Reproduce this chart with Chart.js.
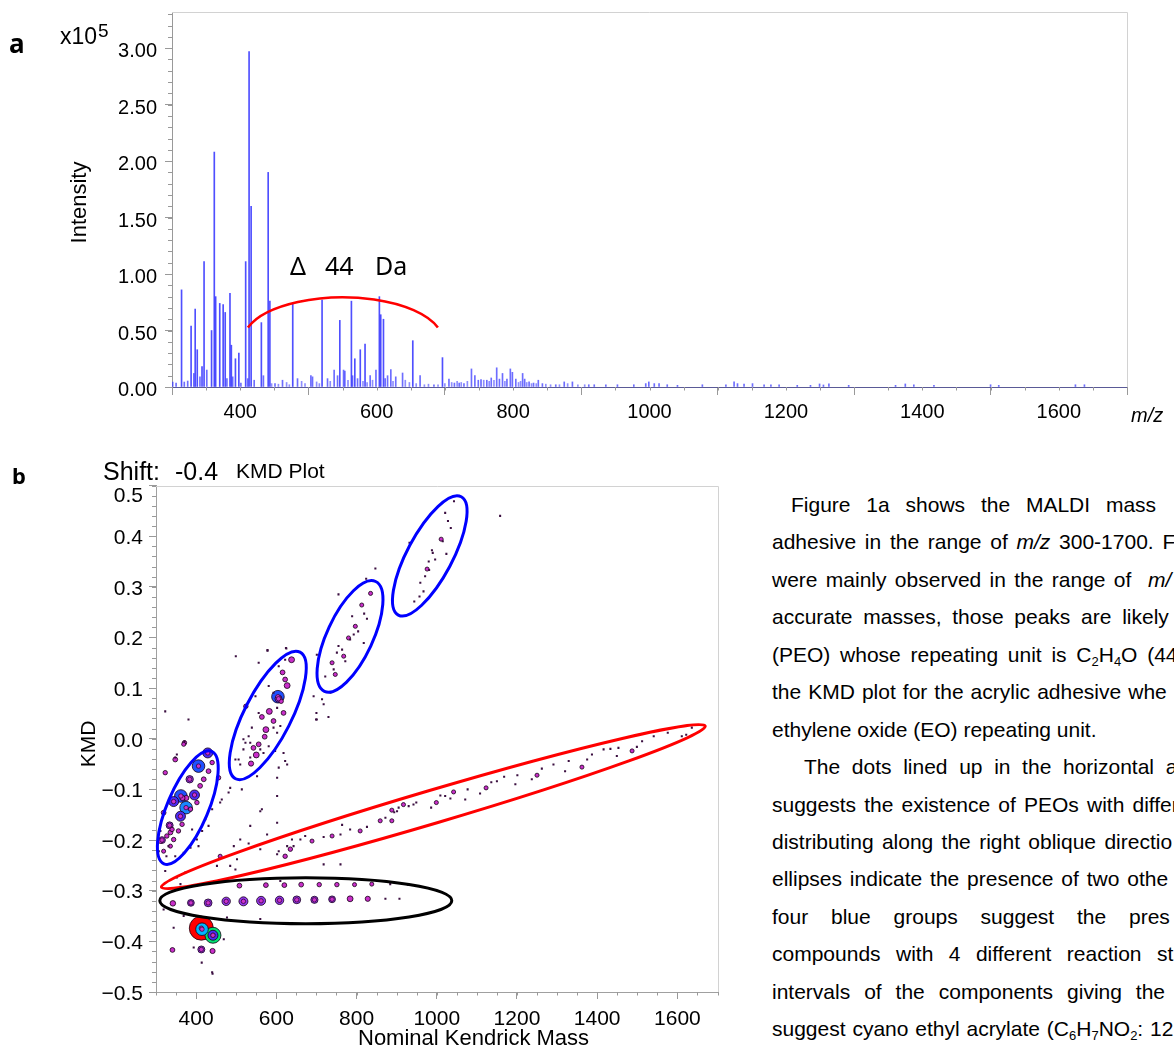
<!DOCTYPE html>
<html>
<head>
<meta charset="utf-8">
<script src="https://cdn.jsdelivr.net/npm/chart.js@4.4.1/dist/chart.umd.min.js"></script>
<style>
  body { margin: 0; width: 1174px; height: 1046px; overflow: hidden; background: #fff; position: relative;
         font-family: "Liberation Sans", Arial, sans-serif; }
  #specWrap { position: absolute; left: 0; top: 0; width: 1174px; height: 440px; }
  #kmdWrap { position: absolute; left: 0; top: 440px; width: 740px; height: 606px; }
  #text { position: absolute; left: 772px; top: 486px; font-size: 21px; line-height: 37.45px; color: #000; white-space: nowrap; }
  #text div { height: 37.45px; }
  #text sub { font-size: 13px; vertical-align: -4px; line-height: 0; }
</style>
</head>
<body>
<div id="specWrap"><canvas id="spec" width="1174" height="440"></canvas></div>
<div id="kmdWrap"><canvas id="kmd" width="740" height="606"></canvas></div>

<div id="text">
  <div style="padding-left:19px;word-spacing:10px">Figure 1a shows the MALDI mass</div>
  <div style="word-spacing:2.9px">adhesive in the range of <i>m/z</i> 300-1700. F</div>
  <div style="word-spacing:2.5px">were mainly observed in the range of &nbsp;<i>m/</i></div>
  <div style="word-spacing:4.9px">accurate masses, those peaks are likely</div>
  <div style="word-spacing:3.9px">(PEO) whose repeating unit is C<sub>2</sub>H<sub>4</sub>O (44</div>
  <div style="word-spacing:1.2px">the KMD plot for the acrylic adhesive whe</div>
  <div>ethylene oxide (EO) repeating unit.</div>
  <div style="padding-left:32px;word-spacing:5.8px">The dots lined up in the horizontal a</div>
  <div style="word-spacing:2.3px">suggests the existence of PEOs with differ</div>
  <div style="word-spacing:2.5px">distributing along the right oblique directio</div>
  <div style="word-spacing:2px">ellipses indicate the presence of two othe</div>
  <div style="word-spacing:17px">four blue groups suggest the pres</div>
  <div style="word-spacing:9.6px">compounds with 4 different reaction st</div>
  <div style="word-spacing:8.1px">intervals of the components giving the</div>
  <div style="word-spacing:1px">suggest cyano ethyl acrylate (C<sub>6</sub>H<sub>7</sub>NO<sub>2</sub>: 12</div>
</div>

<script>
// ---- (a) MALDI spectrum, intensity in x10^5 ----
const massTicks = [400, 600, 800, 1000, 1200, 1400, 1600];

const peakMz = [314, 328, 334, 337, 344, 347, 358, 362, 364, 370,
                375, 378, 385, 387, 393, 398, 408, 413, 416, 431,
                441, 443.5, 477, 520, 546, 563, 568, 576, 583, 604,
                606, 610, 653, 696.5];
const peakInt = [0.86, 0.54, 0.69, 0.33, 0.18, 1.11, 0.50, 2.08, 0.80, 0.74,
                 0.73, 0.66, 0.83, 0.37, 0.25, 0.30, 1.11, 2.97, 1.60, 0.57,
                 1.90, 0.76, 0.74, 0.77, 0.59, 0.76, 0.25, 0.33, 0.38, 0.80,
                 0.64, 0.60, 0.41, 0.26];

const noiseMz = [301, 306, 318, 323, 332, 341, 351, 380.5, 389, 401,
                 411, 420.5, 434, 451, 462, 484, 503.6, 506, 528, 537.7,
                 542.7, 551.5, 553.4, 564.7, 572, 590.5, 599, 612.5, 616, 620.8,
                 628, 638, 663.7, 684, 706, 714, 721, 728, 739, 744,
                 749, 753, 761.5, 768, 776, 780, 784.5, 791, 796, 799,
                 804, 814, 817, 823.5, 830, 837, 843, 862.6, 875, 887,
                 911, 919, 936, 953, 977, 994.5, 999, 1007, 1014, 1026,
                 1041, 1077.5, 1112, 1124, 1129, 1138.6, 1151, 1168, 1178, 1190,
                 1216.6, 1236, 1249.3, 1255, 1263, 1292, 1360.7, 1375, 1387.5, 1417,
                 1500, 1512, 1624.4, 1637.6];
const noiseInt = [0.044, 0.035, 0.044, 0.053, 0.12, 0.09, 0.15, 0.074, 0.09, 0.035,
                  0.074, 0.06, 0.10, 0.03, 0.06, 0.074, 0.10, 0.09, 0.074, 0.15,
                  0.10, 0.15, 0.14, 0.10, 0.074, 0.10, 0.15, 0.074, 0.10, 0.154,
                  0.09, 0.124, 0.10, 0.02, 0.07, 0.035, 0.035, 0.03, 0.16, 0.10,
                  0.06, 0.065, 0.06, 0.08, 0.17, 0.07, 0.12, 0.07, 0.16, 0.13,
                  0.07, 0.12, 0.07, 0.045, 0.035, 0.06, 0.03, 0.02, 0.045, 0.045,
                  0.02, 0.02, 0.02, 0.02, 0.02, 0.03, 0.045, 0.03, 0.03, 0.02,
                  0.015, 0.02, 0.02, 0.045, 0.03, 0.025, 0.03, 0.02, 0.02, 0.02,
                  0.015, 0.015, 0.027, 0.018, 0.027, 0.015, 0.015, 0.027, 0.02, 0.015,
                  0.02, 0.015, 0.02, 0.02];

const baselineMz = [446, 456, 468, 472, 490, 495, 512, 516, 532, 558,
                    580, 586, 594, 624, 642, 648, 658, 670, 676, 690,
                    700, 710, 718, 724, 733, 757, 765, 772, 788, 808,
                    811, 820, 827, 834, 848, 855, 868, 880, 895, 905];
const baselineInt = [0.03, 0.025, 0.04, 0.02, 0.05, 0.03, 0.045, 0.03, 0.05, 0.06,
                     0.05, 0.04, 0.06, 0.05, 0.06, 0.04, 0.03, 0.02, 0.025, 0.02,
                     0.03, 0.04, 0.05, 0.04, 0.05, 0.06, 0.05, 0.06, 0.05, 0.04,
                     0.05, 0.04, 0.03, 0.03, 0.025, 0.02, 0.02, 0.03, 0.02, 0.02];

// ---- (b) KMD plot: [nominal Kendrick mass, KMD, relative intensity %] ----
const blueGroup1 = [
  [429, -0.028, 45], [406, -0.054, 60], [384, -0.080, 13], [362, -0.113, 65], [396, -0.111, 50],
  [344, -0.124, 45], [375, -0.136, 75], [361, -0.153, 42], [334, -0.171, 11], [315, -0.200, 10],
  [375.5, -0.117, 6], [366, -0.117, 6], [419, -0.080, 5], [431, -0.064, 5], [348, -0.041, 5],
  [371, -0.008, 4], [323, -0.067, 4], [319, -0.146, 5], [336, -0.185, 5], [327, -0.192, 4],
  [311, -0.202, 5], [356, -0.182, 4], [365, -0.169, 4], [386, -0.139, 4], [402, -0.126, 4],
  [410, -0.093, 5], [440, -0.047, 4], [456, -0.077, 4], [340, -0.179, 4], [344, -0.199, 4],
  [336, -0.212, 3], [319, -0.222, 3]
];
const blueGroup2 = [
  [604, 0.083, 62], [605.5, 0.079, 11],
  [638, 0.156, 8], [627, 0.105, 8], [582.5, 0.054, 8], [574, 0.018, 8], [550, -0.032, 8],
  [537, -0.049, 6], [571, 0.004, 5], [615.6, 0.131, 5], [622, 0.117, 5], [618, 0.051, 5],
  [593, 0.035, 5], [564, 0.043, 5], [556, -0.011, 5], [543, -0.018, 5], [524, 0.064, 4],
  [612, 0.074, 4],
  [556, 0.150, 2], [578, 0.174, 2], [499, 0.163, 2], [625, 0.178, 2], [602, 0.061, 2],
  [593, 0.022, 2], [602, 0.012, 2], [610, 0.025, 2], [539, 0.022, 2], [531, 0.005, 2],
  [523, -0.008, 2], [518, -0.021, 2], [568, -0.028, 2], [581, -0.015, 2], [597, -0.024, 2],
  [618, -0.028, 2], [627, -0.051, 2], [506, -0.041, 2], [556, 0.051, 2], [548, 0.084, 2],
  [581, 0.104, 2], [593, 0.091, 2], [606, 0.143, 2], [622, 0.156, 2]
];
const blueGroup3 = [
  [835, 0.287, 3], [813, 0.264, 3], [819, 0.247, 2], [826, 0.237, 2], [789, 0.242, 2],
  [797, 0.222, 3], [804, 0.212, 2], [780, 0.199, 3], [784, 0.196, 2], [764, 0.176, 2],
  [768, 0.163, 3], [772, 0.153, 2], [739, 0.150, 3], [743, 0.137, 2], [747, 0.127, 3],
  [722, 0.123, 2], [818, 0.189, 2], [793, 0.206, 2], [755, 0.183, 2], [751, 0.170, 2],
  [847, 0.336, 2], [824, 0.316, 2], [755, 0.285, 2], [701, 0.166, 2], [693, 0.084, 2],
  [714, 0.078, 2], [699, 0.038, 2], [730, 0.043, 2], [735, 0.091, 2]
];
const blueGroup4 = [
  [1043, 0.469, 2], [1021, 0.446, 2], [1028, 0.430, 2], [1035, 0.416, 2], [1011, 0.394, 3],
  [1015, 0.390, 2], [988, 0.372, 2], [990, 0.367, 2], [996, 0.354, 2], [980, 0.350, 2],
  [976, 0.335, 3], [981, 0.333, 2], [971, 0.321, 2], [959, 0.308, 2], [967, 0.291, 2],
  [944, 0.271, 2], [957, 0.281, 2], [932, 0.387, 2], [1024, 0.365, 2], [1158, 0.440, 2]
];
const redGroup = [
  [872, -0.156, 2], [888, -0.141, 3], [894, -0.145, 2], [905, -0.136, 2], [917, -0.130, 3],
  [930, -0.133, 2], [942, -0.130, 2], [949, -0.126, 2], [986, -0.136, 2], [999, -0.126, 3],
  [1009, -0.112, 2], [1021, -0.113, 2], [1034, -0.118, 2], [1042, -0.105, 3], [1071, -0.120, 2],
  [1077, -0.100, 2], [1108, -0.108, 2], [1123, -0.097, 3], [1136, -0.086, 2], [1150, -0.084, 2],
  [1168, -0.075, 2], [1196, -0.090, 2], [1201, -0.072, 2], [1237, -0.080, 2], [1250, -0.072, 3],
  [1262, -0.059, 2], [1291, -0.051, 2], [1320, -0.064, 2], [1329, -0.044, 2], [1362, -0.056, 3],
  [1375, -0.041, 2], [1387, -0.031, 2], [1416, -0.021, 2], [1433, -0.020, 2], [1449, -0.034, 2],
  [1453, -0.018, 2], [1487, -0.024, 3], [1499, -0.016, 2], [1512, -0.005, 2], [1541, 0.005, 2],
  [1576, 0.012, 2], [1611, 0.005, 2], [1622, 0.008, 2], [1636, 0.022, 2],
  [901, -0.143, 2], [888, -0.162, 3], [859, -0.162, 3], [826, -0.174, 2], [809, -0.182, 3],
  [784, -0.179, 2], [764, -0.170, 2], [760, -0.189, 2], [739, -0.192, 3], [718, -0.194, 2],
  [689, -0.202, 3], [672, -0.192, 2], [660, -0.199, 2], [639, -0.199, 2], [635, -0.218, 4],
  [627, -0.212, 2], [622, -0.232, 4], [606, -0.222, 2], [602, -0.228, 2], [577, -0.189, 2],
  [560, -0.143, 2], [531, -0.207, 2], [502, -0.238, 2], [498, -0.258, 2], [460, -0.232, 3],
  [718, -0.248, 2], [760, -0.248, 2]
];
const eoGroup = [
  [342, -0.325, 7], [387, -0.324, 10], [430, -0.324, 15], [475, -0.321, 18], [518, -0.321, 21],
  [562, -0.320, 21], [608, -0.319, 18], [651, -0.318, 15], [695, -0.318, 12], [739, -0.317, 10],
  [784, -0.316, 8], [828, -0.316, 6], [872, -0.316, 2], [907, -0.316, 2],
  [508, -0.290, 5], [574, -0.289, 5], [620, -0.289, 5], [662, -0.288, 5], [707, -0.288, 4],
  [751, -0.288, 4], [795, -0.288, 3], [838, -0.287, 3], [884, -0.287, 2], [928, -0.288, 2]
];
const lowGroup = [
  [413, -0.374, 100], [414.7, -0.376, 85], [442, -0.388, 95], [442, -0.388, 45],
  [413, -0.416, 11], [441, -0.419, 6], [341, -0.417, 5], [414, -0.442, 2], [441, -0.464, 2]
];
const scatterDots = [
  [323, 0.054, 2], [381, 0.038, 2], [369, -0.011, 3], [352, -0.031, 2], [452, -0.080, 2],
  [464, -0.120, 2], [485, -0.097, 2], [481, -0.106, 2], [460, -0.126, 2], [440, -0.139, 2],
  [423, -0.159, 2], [415, -0.182, 2], [402, -0.199, 2], [386, -0.215, 2], [369, -0.225, 2],
  [348, -0.232, 2], [331, -0.212, 2], [307, -0.222, 2], [311, -0.182, 2], [326, -0.232, 2],
  [390, -0.179, 2], [406, -0.212, 2], [431, -0.172, 2], [494, -0.212, 2], [510, -0.199, 2],
  [535, -0.172, 2], [564, -0.139, 2], [602, -0.113, 2], [485, -0.251, 2], [452, -0.251, 2],
  [373, -0.264, 2], [352, -0.274, 2], [323, -0.261, 2], [361, -0.287, 2], [319, -0.337, 2],
  [369, -0.350, 2], [344, -0.373, 2], [394, -0.412, 2], [440, -0.461, 2], [469, -0.396, 2],
  [514, -0.100, 2], [552, -0.074, 2], [535, -0.008, 2], [518, -0.001, 2], [498, -0.041, 2],
  [510, -0.051, 2], [535, -0.037, 2], [560, -0.021, 2], [602, -0.077, 2], [606, -0.057, 2],
  [622, -0.044, 2], [701, 0.038, 2], [718, 0.068, 2], [700, 0.051, 2], [643, -0.212, 2],
  [602, -0.166, 2], [560, -0.218, 2], [481, -0.281, 2], [610, -0.281, 2], [560, -0.356, 2],
  [477, -0.353, 2], [371, -0.005, 2], [348, -0.037, 2], [578, 0.175, 2], [624, 0.179, 2]
];

// annotation ellipses (centre in data units, radii in px, tilt in degrees)
const kmdEllipses = [
  { mz: 379.3, kmd: -0.136, rx: 61, ry: 20.5, tilt: 67, color: '#0000ff' },
  { mz: 578.7, kmd: 0.046, rx: 71, ry: 23.5, tilt: 63, color: '#0000ff' },
  { mz: 783.7, kmd: 0.202, rx: 60.6, ry: 22.9, tilt: 65, color: '#0000ff' },
  { mz: 982.6, kmd: 0.361, rx: 67, ry: 22.6, tilt: 62, color: '#0000ff' },
  { mz: 991.4, kmd: -0.134, rx: 283.6, ry: 16.5, tilt: 16.5, color: '#ff0000' },
  { mz: 673.5, kmd: -0.3197, rx: 146, ry: 23, tilt: 0, color: '#000000' }
];

const FONT = '"Liberation Sans", Arial, sans-serif';
Chart.defaults.font.family = FONT;
Chart.defaults.color = '#000';

const toXY = (xs, ys) => xs.map((x, i) => ({ x: x, y: ys[i] }));
const fixedTicks = vals => s => { s.ticks = vals.map(v => ({ value: v })); };
const noEdgePad = s => { s.paddingTop = 0; s.paddingBottom = 0; s.paddingLeft = 0; s.paddingRight = 0; };

function minorTicks(chart, xStep, yCount, xLen, yLen) {
  const { ctx, chartArea: a, scales: { x, y } } = chart;
  ctx.save();
  ctx.strokeStyle = '#999';
  ctx.lineWidth = 1;
  ctx.beginPath();
  const nx = Math.round((x.max - x.min) / xStep);
  for (let i = 0; i <= nx; i++) {
    const px = Math.round(x.getPixelForValue(x.min + i * xStep)) + 0.5;
    ctx.moveTo(px, a.bottom);
    ctx.lineTo(px, a.bottom + xLen);
  }
  for (let i = 0; i <= yCount; i++) {
    const v = y.min + (y.max - y.min) * i / yCount;
    const py = Math.round(y.getPixelForValue(v)) + 0.5;
    ctx.moveTo(a.left - yLen, py);
    ctx.lineTo(a.left, py);
  }
  ctx.stroke();
  // light frame on top and right
  ctx.strokeStyle = '#d2d2d2';
  ctx.beginPath();
  ctx.moveTo(a.left, Math.round(a.top) + 0.5);
  ctx.lineTo(Math.round(a.right) + 0.5, Math.round(a.top) + 0.5);
  ctx.lineTo(Math.round(a.right) + 0.5, a.bottom);
  ctx.stroke();
  ctx.restore();
}

// ---------- chart a ----------
const specDecor = {
  id: 'specDecor',
  afterDraw(chart) {
    const { ctx, scales: { x, y } } = chart;
    minorTicks(chart, 50, 0, 3.5, 0);
    // y minor ticks every 0.1
    ctx.save();
    ctx.strokeStyle = '#999';
    ctx.beginPath();
    for (let k = 0; k <= 33; k++) {
      const py = Math.round(y.getPixelForValue(k / 10)) + 0.5;
      ctx.moveTo(chart.chartArea.left - 4, py);
      ctx.lineTo(chart.chartArea.left, py);
    }
    ctx.stroke();

    // Δ 44 Da arc
    const cx = x.getPixelForValue(550.5), cy = y.getPixelForValue(0.405);
    ctx.strokeStyle = '#ff0000';
    ctx.lineWidth = 2.5;
    ctx.beginPath();
    ctx.ellipse(cx, cy, 100, 44, 0, -161.8 * Math.PI / 180, -18.2 * Math.PI / 180);
    ctx.stroke();

    ctx.fillStyle = '#000';
    ctx.font = '25px "Noto Sans"';
    ctx.fillText('\u0394', 290, 275);
    ctx.fillText('44', 325, 275);
    ctx.fillText('Da', 375, 275);

    ctx.font = 'bold 26px "Noto Sans"';
    ctx.fillText('a', 9, 53);
    ctx.font = '23px ' + FONT;
    ctx.fillText('x10', 60, 43.5);
    ctx.font = '19px ' + FONT;
    ctx.fillText('5', 98, 36.5);
    ctx.font = 'italic 20px ' + FONT;
    ctx.fillText('m/z', 1131, 421.5);

    ctx.translate(86, 202.5);
    ctx.rotate(-Math.PI / 2);
    ctx.textAlign = 'center';
    ctx.font = '22px ' + FONT;
    ctx.fillText('Intensity', 0, 0);
    ctx.restore();
  }
};

new Chart(document.getElementById('spec'), {
  type: 'bar',
  data: {
    datasets: [
      { data: toXY(peakMz, peakInt), backgroundColor: 'rgba(35,35,255,0.8)', barThickness: 1, grouped: false, borderWidth: 0 },
      { data: toXY(noiseMz, noiseInt), backgroundColor: 'rgba(60,60,255,0.75)', barThickness: 1, grouped: false, borderWidth: 0 },
      { data: toXY(baselineMz, baselineInt), backgroundColor: 'rgba(80,80,255,0.65)', barThickness: 1, grouped: false, borderWidth: 0 }
    ]
  },
  options: {
    responsive: false,
    animation: false,
    devicePixelRatio: 1,
    events: [],
    layout: { padding: { left: 0, top: 12, right: 47, bottom: 0 } },
    plugins: { legend: { display: false }, tooltip: { enabled: false } },
    scales: {
      x: {
        type: 'linear', min: 300, max: 1700, offset: false,
        afterBuildTicks: fixedTicks(massTicks),
        ticks: { maxRotation: 0, autoSkip: false, padding: 5, font: { size: 20 }, color: '#000',
                 callback: v => String(v) },
        grid: { drawOnChartArea: false, tickLength: 8, tickColor: '#999' },
        border: { color: '#5a5a96', width: 1 },
        afterFit: s => { s.height = 53; noEdgePad(s); }
      },
      y: {
        min: 0, max: 3.32,
        ticks: { stepSize: 0.5, includeBounds: false, padding: 8, labelOffset: 3.5,
                 font: { size: 20 }, color: '#000', callback: v => v.toFixed(2) },
        grid: { drawOnChartArea: false, tickLength: 7, tickColor: '#999' },
        border: { color: '#999' },
        afterFit: s => { s.width = 172; noEdgePad(s); }
      }
    }
  },
  plugins: [specDecor]
});

// ---------- chart b ----------
function dotRadius(v) {
  if (v < 3) return 1.45;
  if (v < 10) return 1.5 + v * 0.18;
  if (v < 40) return 2.4 + v * 0.1;
  if (v < 55) return 5;
  if (v < 70) return 6.3;
  if (v < 90) return 6.3;
  if (v < 98) return 8;
  return 12;
}
function dotColor(v) {
  if (v < 3) return '#3b0f40';
  if (v < 10) return '#c92ec9';
  if (v < 40) return '#9438ee';
  if (v < 55) return '#4a2cf2';
  if (v < 70) return '#1f50ff';
  if (v < 80) return '#1a88ff';
  if (v < 90) return '#00b6ff';
  if (v < 98) return '#00e070';
  return '#ff0000';
}

const kmdPoints = [blueGroup1, blueGroup2, blueGroup3, blueGroup4, redGroup, eoGroup, lowGroup, scatterDots]
  .flat()
  .map(p => ({ x: p[0], y: p[1], v: p[2] }))
  .sort((a, b) => b.v - a.v);

const vOf = c => (c.raw ? c.raw.v : 0);

const kmdDecor = {
  id: 'kmdDecor',
  afterDatasetsDraw(chart) {
    const { ctx, scales: { x, y } } = chart;
    ctx.save();
    ctx.lineWidth = 3;
    kmdEllipses.forEach(e => {
      ctx.strokeStyle = e.color;
      ctx.beginPath();
      ctx.ellipse(x.getPixelForValue(e.mz), y.getPixelForValue(e.kmd), e.rx, e.ry,
                  -e.tilt * Math.PI / 180, 0, Math.PI * 2);
      ctx.stroke();
    });
    ctx.restore();
  },
  afterDraw(chart) {
    const { ctx, chartArea: a } = chart;
    minorTicks(chart, 50, 50, 3.5, 4);
    ctx.save();
    ctx.fillStyle = '#000';
    ctx.font = '21px ' + FONT;
    ctx.textAlign = 'right';
    ctx.textBaseline = 'middle';
    ctx.fillText('0.5', a.left - 13, 56);
    ctx.textAlign = 'left';
    ctx.textBaseline = 'alphabetic';
    ctx.font = 'bold 22px "Noto Sans"';
    ctx.fillText('b', 12, 43.5);
    ctx.font = '25px ' + FONT;
    ctx.fillText('Shift:', 103, 40);
    ctx.fillText('-0.4', 175, 40);
    ctx.font = '21px ' + FONT;
    ctx.fillText('KMD Plot', 236, 37.5);
    ctx.font = '22px ' + FONT;
    ctx.fillText('Nominal Kendrick Mass', 358, 605);
    ctx.translate(95, 304);
    ctx.rotate(-Math.PI / 2);
    ctx.textAlign = 'center';
    ctx.font = '21px ' + FONT;
    ctx.fillText('KMD', 0, 0);
    ctx.restore();
  }
};

new Chart(document.getElementById('kmd'), {
  type: 'scatter',
  data: {
    datasets: [
      {
        data: kmdPoints.filter(p => p.v >= 10),
        order: 0,
        pointRadius: 2.2,
        pointBackgroundColor: '#cc33cc',
        pointBorderColor: '#2a002a',
        pointBorderWidth: 0.7
      },
      {
        data: kmdPoints,
        order: 1,
        pointStyle: c => (vOf(c) < 3 ? 'rect' : 'circle'),
        pointRadius: c => dotRadius(vOf(c)),
        pointBackgroundColor: c => dotColor(vOf(c)),
        pointBorderColor: c => (vOf(c) < 3 ? dotColor(vOf(c)) : '#140014'),
        pointBorderWidth: c => (vOf(c) < 3 ? 0 : 0.8)
      }
    ]
  },
  options: {
    responsive: false,
    animation: false,
    devicePixelRatio: 1,
    events: [],
    layout: { padding: { left: 0, top: 45.5, right: 22.5, bottom: 0 } },
    plugins: { legend: { display: false }, tooltip: { enabled: false } },
    scales: {
      x: {
        type: 'linear', min: 300, max: 1700,
        afterBuildTicks: fixedTicks(massTicks),
        ticks: { maxRotation: 0, autoSkip: false, padding: 8, font: { size: 21 }, color: '#000',
                 callback: v => String(v) },
        grid: { drawOnChartArea: false, tickLength: 7, tickColor: '#999' },
        border: { color: '#a0a0a0' },
        afterFit: s => { s.height = 54; noEdgePad(s); }
      },
      y: {
        min: -0.5, max: 0.5,
        ticks: {
          stepSize: 0.1, includeBounds: false, padding: 6, labelOffset: 2,
          font: { size: 21 }, color: '#000',
          callback: v => (Math.abs(v - 0.5) < 1e-6 ? '' :
                          (v < -1e-6 ? '\u2212' + Math.abs(v).toFixed(1) : Math.abs(v).toFixed(1)))
        },
        grid: { drawOnChartArea: false, tickLength: 7, tickColor: '#999' },
        border: { color: '#a0a0a0' },
        afterFit: s => { s.width = 156; noEdgePad(s); }
      }
    }
  },
  plugins: [kmdDecor]
});
</script>
</body>
</html>
